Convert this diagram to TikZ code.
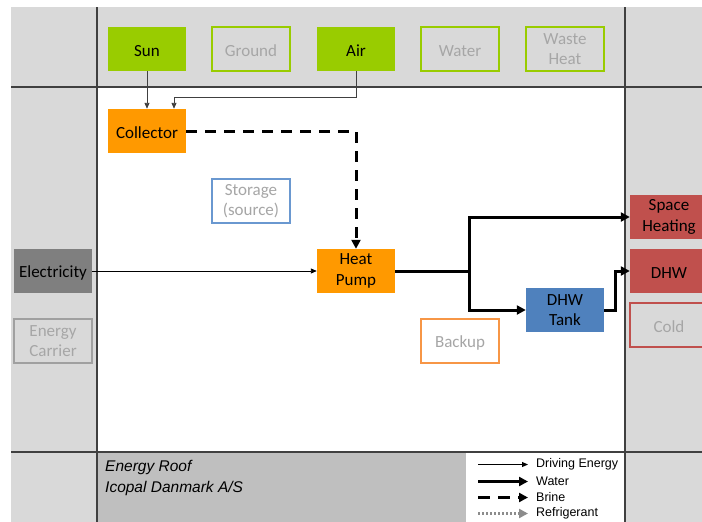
\documentclass[tikz,border=0pt]{standalone}
\usepackage{fontspec}
\setmainfont{Carlito}
\newfontfamily\arialf{Liberation Sans}
\usetikzlibrary{arrows.meta}
\definecolor{bglight}{HTML}{D9D9D9}
\definecolor{bgdark}{HTML}{BFBFBF}
\definecolor{sepline}{HTML}{404040}
\definecolor{green}{HTML}{99CC00}
\definecolor{orange}{HTML}{FF9900}
\definecolor{elgray}{HTML}{7F7F7F}
\definecolor{hotred}{HTML}{C0504D}
\definecolor{tankblue}{HTML}{4F81BD}
\definecolor{storblue}{HTML}{6A98D0}
\definecolor{backorange}{HTML}{F79646}
\definecolor{dimtext}{HTML}{A6A6A6}
\definecolor{carrierborder}{HTML}{A0A0A0}
\definecolor{refgray}{HTML}{8C8C8C}
\tikzset{
  box/.style={minimum width=78pt, minimum height=44pt, inner sep=0pt, align=center,
    font=\fontsize{17}{20.5}\selectfont, execute at begin node={\rule{0pt}{15.5pt}}},
  two/.style={execute at begin node={\rule{0pt}{20pt}}},
  filledbox/.style={box, fill=#1, text=black},
  ghostbox/.style={box, draw=#1, line width=1.5pt, fill=bglight, text=dimtext},
  whitebox/.style={box, draw=#1, line width=1.5pt, fill=white, text=dimtext},
  driving/.style={line width=0.9pt, -{Triangle[length=6pt,width=5pt]}},
  water/.style={line width=3pt, -{Triangle[length=9pt,width=9pt]}},
  brine/.style={line width=3pt, dash pattern=on 11pt off 8pt, -{Triangle[length=9pt,width=9pt]}},
  refrig/.style={line width=3pt, refgray, dash pattern=on 2pt off 2pt, -{Triangle[length=9pt,width=9pt]}},
  legtext/.style={anchor=west, inner sep=0pt, font=\arialf\fontsize{12.5}{14}\selectfont},
}
\begin{document}
\begin{tikzpicture}[x=1pt, y=-1pt]
\useasboundingbox (0,0) rectangle (702,522);
% background zones
\fill[bglight] (11,7) rectangle (702,522);
\fill[white] (97,87) rectangle (625,452);
\fill[bgdark] (97,452) rectangle (625,522);
\fill[white] (466,452) rectangle (625,522);
\draw[sepline, line width=1.2pt] (97,7) -- (97,522);
\draw[sepline, line width=1.2pt] (625,7) -- (625,522);
\draw[sepline, line width=1.2pt] (11,87) -- (702,87);
\draw[sepline, line width=1.2pt] (11,452) -- (702,452);

% sources
\node[filledbox=green] (sun) at (147,49) {Sun};
\node[ghostbox=green] (ground) at (251,49) {Ground};
\node[filledbox=green] (air) at (356,49) {Air};
\node[ghostbox=green] (water) at (460,49) {Water};
\node[ghostbox=green, two] (waste) at (565,49) {Waste\\Heat};

% components
\node[filledbox=orange] (coll) at (147,131) {Collector};
\node[whitebox=storblue, two] (stor) at (251,201) {Storage\\(source)};
\node[filledbox=orange, two] (hp) at (356,271) {Heat\\Pump};
\node[filledbox=tankblue, two] (tank) at (565,310) {DHW\\Tank};
\node[whitebox=backorange] (backup) at (460,341) {Backup};

% energy carriers
\node[filledbox=elgray] (elec) at (53,271) {Electricity};
\node[ghostbox=carrierborder, two] (carrier) at (53,341) {Energy\\Carrier};

% sinks
\node[filledbox=hotred, two] (sh) at (669,217) {Space\\Heating};
\node[filledbox=hotred] (dhw) at (669,271) {DHW};
\node[ghostbox=hotred] (cold) at (669,325) {Cold};

% connectors
\draw[driving, sepline] (sun.south) -- (coll.north);
\draw[driving, sepline] (air.south) -- ++(0,26) -| ([xshift=27pt]coll.north);
\draw[brine] (coll.east) -| (hp.north);
\draw[driving] (elec.east) -- (hp.west);
\coordinate (split) at (469,271);
\draw[line width=3pt] (hp.east) -- (split);
\draw[water] (split) |- (sh.west);
\draw[water] (split) |- (tank.west);
\coordinate (tankout) at (615,310);
\draw[water] (tank.east) -- (tankout) |- (dhw.west);

% caption
\node[anchor=north west, inner sep=0pt, align=left, text=black,
  font=\arialf\itshape\fontsize{15.5}{21}\selectfont] (caption) at (105,460.5)
  {Energy Roof\\Icopal Danmark A/S};

% legend
\node[legtext] (lg1) at (536,464.5) {Driving Energy};
\node[legtext] (lg2) at (536,481.5) {Water};
\node[legtext] (lg3) at (536,497.5) {Brine};
\node[legtext] (lg4) at (536,513.5) {Refrigerant};
\coordinate (ls1) at (478,464.5);
\coordinate (ls2) at (478,481.5);
\coordinate (ls3) at (478,497.5);
\coordinate (ls4) at (478,513.5);
\draw[driving] (ls1) -- ([xshift=-8pt]lg1.west);
\draw[water] (ls2) -- ([xshift=-8pt]lg2.west);
\draw[brine, dash pattern=on 12pt off 8pt] (ls3) -- ([xshift=-8pt]lg3.west);
\draw[refrig] (ls4) -- ([xshift=-8pt]lg4.west);
\end{tikzpicture}
\end{document}
